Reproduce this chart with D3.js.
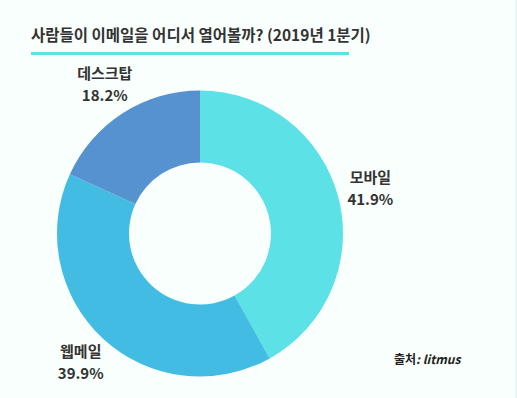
<!DOCTYPE html>
<html>
<head>
<meta charset="utf-8">
<script src="https://cdn.jsdelivr.net/npm/d3@7"></script>
<style>
  body { margin: 0; background: #f9fffc; }
  svg { display: block; font-family: "Noto Sans CJK KR", "Noto Sans", sans-serif; }
</style>
</head>
<body>
<div id="chart"></div>
<script>
// 이메일 열람 환경 (2019년 1분기)
var devices = ["모바일", "웹메일", "데스크탑"];
var shares = [41.9, 39.9, 18.2];
var sliceColors = ["#5ce1e6", "#42bce2", "#5592cf"];

var width = 517, height = 398;
var cx = 200, cy = 233.5, outerR = 143, innerR = 71, labelR = 176;

var svg = d3.select("#chart").append("svg")
    .attr("width", width)
    .attr("height", height);

svg.append("rect")
    .attr("width", width)
    .attr("height", height)
    .attr("fill", "#f9fffc");

// faint border on the right edge
svg.append("rect")
    .attr("x", width - 1.5)
    .attr("y", 0)
    .attr("width", 1)
    .attr("height", height)
    .attr("fill", "#cdeff2");

svg.append("text")
    .attr("x", 31)
    .attr("y", 41)
    .attr("font-size", 15.5)
    .attr("font-weight", "bold")
    .attr("fill", "#333")
    .text("사람들이 이메일을 어디서 열어볼까? (2019년 1분기)");

svg.append("rect")
    .attr("x", 31)
    .attr("y", 52)
    .attr("width", 318)
    .attr("height", 3)
    .attr("fill", "#5ce1e6");

var color = d3.scaleOrdinal().domain(devices).range(sliceColors);

var pie = d3.pie()
    .sort(null)
    .value(function (d) { return d.value; });

var arcs = pie(devices.map(function (name, i) {
    return {name: name, value: shares[i]};
}));

var arc = d3.arc().innerRadius(innerR).outerRadius(outerR);
var labelArc = d3.arc().innerRadius(labelR).outerRadius(labelR);

var g = svg.append("g")
    .attr("transform", "translate(" + cx + "," + cy + ")");

g.selectAll(".slice")
    .data(arcs)
    .enter()
    .append("path")
    .attr("class", "slice")
    .attr("d", arc)
    .attr("fill", function (d) { return color(d.data.name); });

var labels = g.selectAll(".label")
    .data(arcs)
    .enter()
    .append("text")
    .attr("class", "label")
    .attr("transform", function (d) {
        return "translate(" + labelArc.centroid(d) + ")";
    })
    .attr("text-anchor", "middle")
    .attr("font-size", 15)
    .attr("font-weight", "bold")
    .attr("fill", "#333");

labels.append("tspan")
    .attr("x", 0)
    .attr("y", -6)
    .text(function (d) { return d.data.name; });

labels.append("tspan")
    .attr("x", 0)
    .attr("y", 16)
    .text(function (d) { return d.data.value.toFixed(1) + "%"; });

var src = svg.append("text")
    .attr("x", 394)
    .attr("y", 364)
    .attr("font-size", 12)
    .attr("font-weight", "bold")
    .attr("fill", "#222");
src.append("tspan").text("출처");
src.append("tspan").attr("font-style", "italic").text(": litmus");
</script>
</body>
</html>
